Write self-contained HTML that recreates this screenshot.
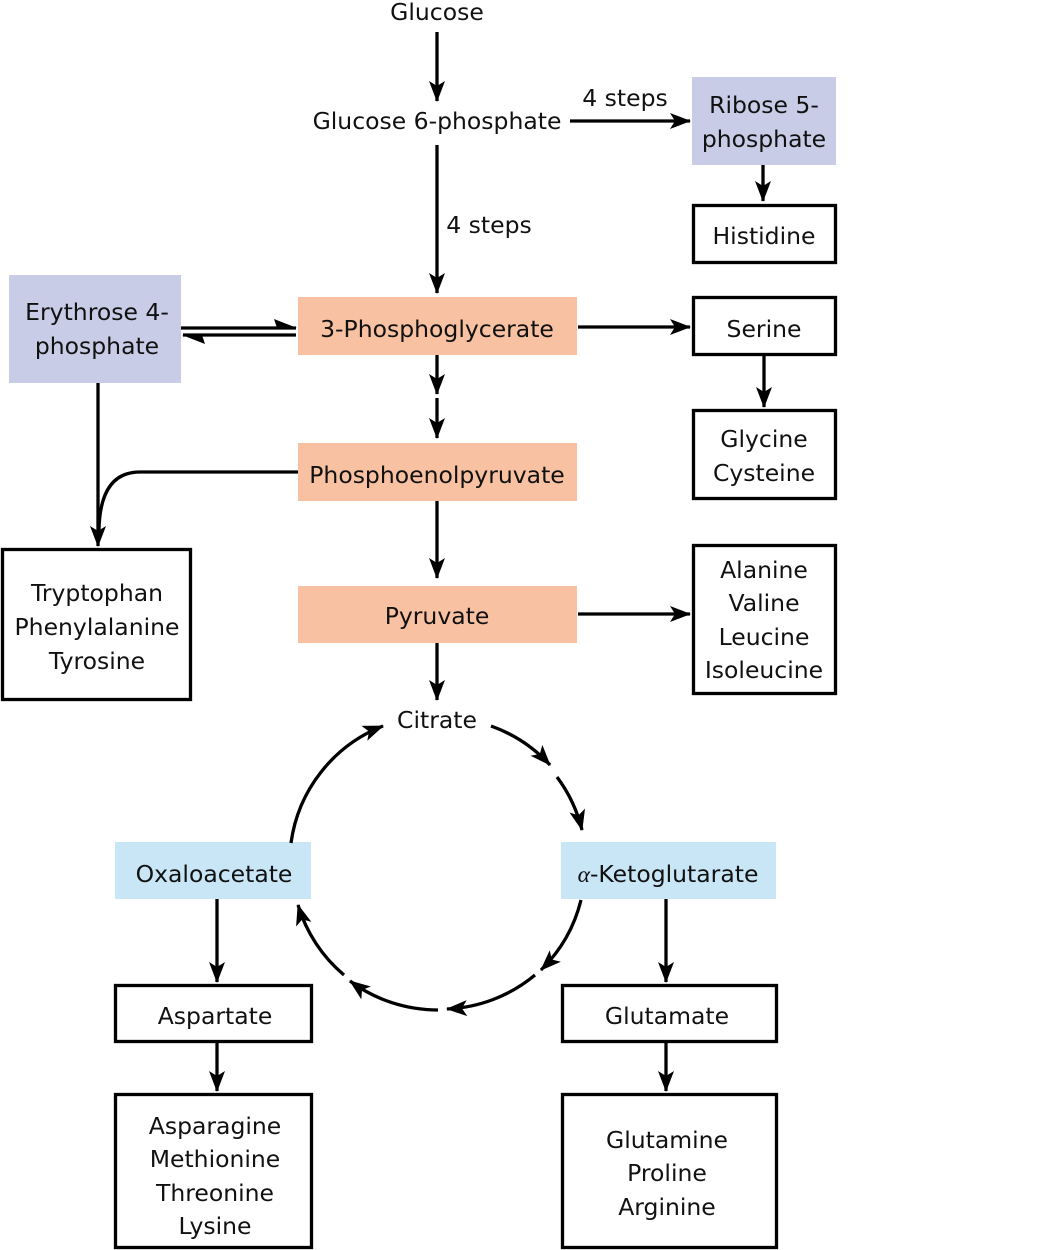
<!DOCTYPE html>
<html><head><meta charset="utf-8"><style>
html,body{margin:0;padding:0;background:#fff;}
svg{display:block;}
text{font-family:"DejaVu Sans","Liberation Sans",sans-serif;font-size:23.5px;fill:#111;text-anchor:middle;}
</style></head><body>
<svg width="1059" height="1250" viewBox="0 0 1059 1250" xmlns="http://www.w3.org/2000/svg">
<defs>
<marker id="a" markerWidth="22" markerHeight="22" refX="20" refY="11" orient="auto" markerUnits="userSpaceOnUse">
<path d="M0,3 L21,11 L0,19 L5,11 z" fill="#000"/>
</marker>
<marker id="h" markerWidth="24" markerHeight="14" refX="22" refY="12" orient="auto" markerUnits="userSpaceOnUse">
<path d="M0,3 L23,12 L3,12 z" fill="#000"/>
</marker>
</defs>
<g fill="none" stroke="#000" stroke-width="3.3">
<rect x="692" y="77" width="144" height="88" fill="#c8cce6" stroke="none"/>
<rect x="9" y="275" width="172" height="108" fill="#c8cce6" stroke="none"/>
<rect x="298" y="297" width="279" height="58" fill="#f8c1a2" stroke="none"/>
<rect x="298" y="443" width="279" height="58" fill="#f8c1a2" stroke="none"/>
<rect x="298" y="586" width="279" height="57" fill="#f8c1a2" stroke="none"/>
<rect x="115" y="842" width="196" height="57" fill="#c9e6f7" stroke="none"/>
<rect x="561" y="842" width="215" height="57" fill="#c9e6f7" stroke="none"/>
<rect x="693.5" y="205.5" width="142" height="57"/>
<rect x="693.5" y="297.5" width="142" height="57"/>
<rect x="693.5" y="410.5" width="142" height="88"/>
<rect x="693.5" y="545.5" width="142" height="148"/>
<rect x="2.5" y="549.5" width="188" height="150"/>
<rect x="115.5" y="985.5" width="196" height="56"/>
<rect x="562.5" y="985.5" width="214" height="56"/>
<rect x="115.5" y="1094.5" width="196" height="153"/>
<rect x="562.5" y="1094.5" width="214" height="153"/>
<line x1="437" y1="32" x2="437" y2="101" marker-end="url(#a)"/>
<line x1="437" y1="145" x2="437" y2="293" marker-end="url(#a)"/>
<line x1="570" y1="121" x2="690" y2="121" marker-end="url(#a)"/>
<line x1="763" y1="165" x2="763" y2="201" marker-end="url(#a)"/>
<line x1="578" y1="327" x2="690" y2="327" marker-end="url(#a)"/>
<line x1="764" y1="355" x2="764" y2="407" marker-end="url(#a)"/>
<line x1="437" y1="355" x2="437" y2="394" marker-end="url(#a)"/>
<line x1="437" y1="398" x2="437" y2="438" marker-end="url(#a)"/>
<line x1="437" y1="501" x2="437" y2="578" marker-end="url(#a)"/>
<line x1="578" y1="614" x2="690" y2="614" marker-end="url(#a)"/>
<line x1="437" y1="643" x2="437" y2="700" marker-end="url(#a)"/>
<line x1="181" y1="328" x2="296" y2="328" marker-end="url(#h)"/>
<line x1="296" y1="335" x2="183" y2="335" marker-end="url(#h)"/>
<line x1="98" y1="383" x2="98" y2="546" marker-end="url(#a)"/>
<path d="M298,472 L140,472 Q100,472 99,530"/>
<line x1="217" y1="899" x2="217" y2="982" marker-end="url(#a)"/>
<line x1="217" y1="1042" x2="217" y2="1091" marker-end="url(#a)"/>
<line x1="666" y1="899" x2="666" y2="982" marker-end="url(#a)"/>
<line x1="666" y1="1042" x2="666" y2="1091" marker-end="url(#a)"/>
<path d="M491,726 A147,147 0 0 1 550,765" marker-end="url(#a)"/>
<path d="M557,777 A147,147 0 0 1 582,830" marker-end="url(#a)"/>
<path d="M581,900 A147,147 0 0 1 541,970" marker-end="url(#a)"/>
<path d="M535,975 A147,147 0 0 1 447,1009" marker-end="url(#a)"/>
<path d="M438,1010 A147,147 0 0 1 350,981" marker-end="url(#a)"/>
<path d="M344,975 A147,147 0 0 1 298,905" marker-end="url(#a)"/>
<path d="M291,843 A147,147 0 0 1 383,726" marker-end="url(#a)"/>
</g>
<g>
<text x="437" y="20">Glucose</text>
<text x="437" y="129">Glucose 6-phosphate</text>
<text x="625" y="106">4 steps</text>
<text x="764" y="113">Ribose 5-</text>
<text x="764" y="147">phosphate</text>
<text x="764" y="244">Histidine</text>
<text x="489" y="233">4 steps</text>
<text x="97" y="320">Erythrose 4-</text>
<text x="97" y="354">phosphate</text>
<text x="437" y="337">3-Phosphoglycerate</text>
<text x="764" y="337">Serine</text>
<text x="764" y="447">Glycine</text>
<text x="764" y="481">Cysteine</text>
<text x="437" y="483">Phosphoenolpyruvate</text>
<text x="97" y="601">Tryptophan</text>
<text x="97" y="635">Phenylalanine</text>
<text x="97" y="669">Tyrosine</text>
<text x="437" y="624">Pyruvate</text>
<text x="764" y="578">Alanine</text>
<text x="764" y="611">Valine</text>
<text x="764" y="645">Leucine</text>
<text x="764" y="678">Isoleucine</text>
<text x="437" y="728">Citrate</text>
<text x="214" y="882">Oxaloacetate</text>
<text x="668" y="882"><tspan font-style="italic" font-family="Liberation Serif, serif">α</tspan>-Ketoglutarate</text>
<text x="215" y="1024">Aspartate</text>
<text x="667" y="1024">Glutamate</text>
<text x="215" y="1134">Asparagine</text>
<text x="215" y="1167">Methionine</text>
<text x="215" y="1201">Threonine</text>
<text x="215" y="1234">Lysine</text>
<text x="667" y="1148">Glutamine</text>
<text x="667" y="1181">Proline</text>
<text x="667" y="1215">Arginine</text>
</g>
</svg>
</body></html>
